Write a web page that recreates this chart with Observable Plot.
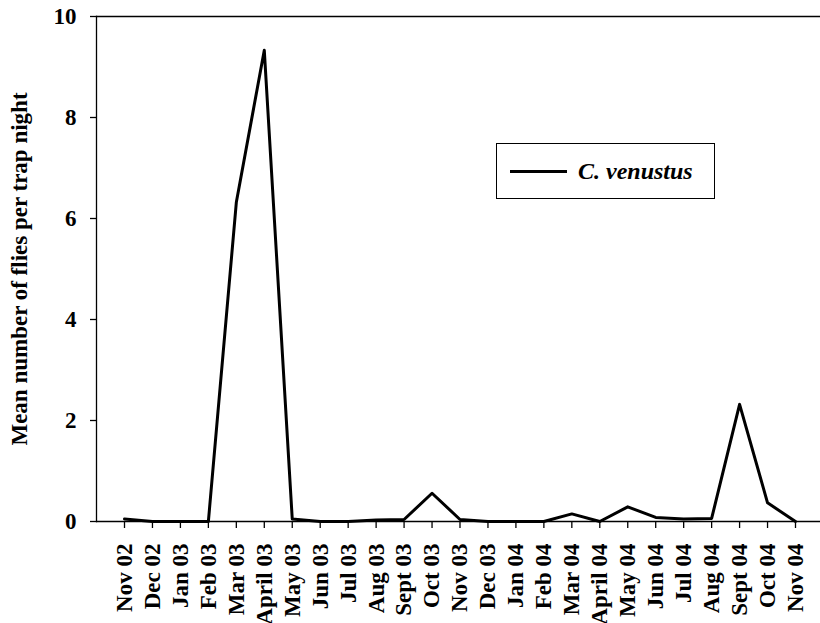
<!DOCTYPE html>
<html><head><meta charset="utf-8">
<script src="https://cdn.jsdelivr.net/npm/d3@7"></script>
<script src="https://cdn.jsdelivr.net/npm/@observablehq/plot@0.6"></script>
<style>
body{margin:0;background:#fff}
#chart{position:relative;width:820px;height:623px;overflow:hidden}
#chart svg text{font-family:"Liberation Serif","Times New Roman",serif !important;font-weight:bold}
.legend{position:absolute;left:496px;top:143px;width:219px;height:56px;border:1.3px solid #000;box-sizing:border-box;display:flex;align-items:center;font-family:"Liberation Serif","Times New Roman",serif;font-weight:bold;font-style:italic;font-size:24px;color:#000;background:#fff}
.legend .sw{display:inline-block;width:57px;height:3px;background:#000;margin-left:13px;margin-right:11px}
</style></head><body><div id="chart"></div>
<script>
const months = ["Nov 02","Dec 02","Jan 03","Feb 03","Mar 03","April 03","May 03","Jun 03","Jul 03","Aug 03","Sept 03","Oct 03","Nov 03","Dec 03","Jan 04","Feb 04","Mar 04","April 04","May 04","Jun 04","Jul 04","Aug 04","Sept 04","Oct 04","Nov 04"];
const flies = [0.05,0,0,0,6.32,9.33,0.05,0,0,0.03,0.04,0.56,0.04,0,0,0,0.15,0,0.29,0.08,0.05,0.06,2.32,0.37,0];
const yTicks = [0,2,4,6,8,10];
const seriesName = "C. venustus";
const yTitle = "Mean number of flies per trap night";

const data = months.map((m,i)=>({month:m, value:flies[i]}));
const F = "Liberation Serif";
const chart = Plot.plot({
  width:820, height:623, marginLeft:96, marginRight:0, marginTop:16, marginBottom:102,
  style:{color:"#000", background:"#fff", overflow:"visible"},
  x:{type:"point", domain:months, padding:0, round:false, insetLeft:28, insetRight:25},
  y:{domain:[0,10]},
  marks:[
    Plot.ruleY([0,10], {stroke:"#000", strokeWidth:1.3}),
    Plot.frame({anchor:"left", stroke:"#000", strokeWidth:1.3}),
    Plot.axisY({ticks:yTicks, tickSize:6, tickPadding:14, tickFormat:d=>d, strokeWidth:1.3,
      fontFamily:F, fontWeight:"bold", fontSize:23,
      label:yTitle, labelAnchor:"center", labelOffset:86, labelArrow:"none"}),
    Plot.axisX({tickRotate:-90, tickSize:7, tickPadding:15, strokeWidth:1.3, label:null,
      fontFamily:F, fontWeight:"bold", fontSize:23}),
    Plot.line(data,{x:"month", y:"value", stroke:"#000", strokeWidth:3})
  ]
});
const host = document.getElementById("chart");
host.appendChild(chart);
const lg = document.createElement("div");
lg.className = "legend";
lg.innerHTML = '<span class="sw"></span><span></span>';
lg.lastChild.textContent = seriesName;
host.appendChild(lg);
</script></body></html>
